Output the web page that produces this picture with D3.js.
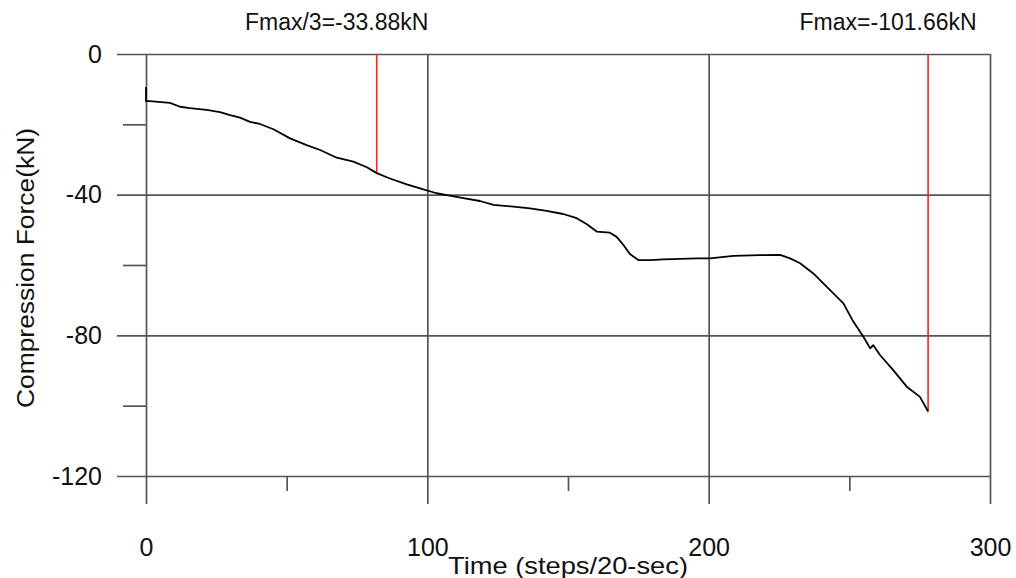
<!DOCTYPE html>
<html>
<head>
<meta charset="utf-8">
<script src="https://cdn.jsdelivr.net/npm/d3@7"></script>
<style>
  html, body { margin: 0; padding: 0; background: #fff; }
  svg text { font-family: "Liberation Sans", Arial, sans-serif; fill: #111; }
</style>
</head>
<body>
<div id="chart"></div>
<script>
// Data (time step, compression force in kN)
const timeSteps = [0, 0, 1.4, 8.5, 12.1, 15.6, 21.6, 26.3, 29.9, 33.4, 37.0, 40.5, 45.3, 51.2, 57.1,
    61.9, 67.8, 73.7, 78.5, 82.0, 86.7, 92.7, 98.6, 103.3, 106.9, 112.8, 118.7, 123.5, 130.6,
    136.5, 142.4, 148.3, 153.1, 156.7, 160.2, 164.9, 167.3, 169.7, 172.0, 175.0, 179.2, 183.9,
    195.8, 200.5, 208.8, 218.3, 225.4, 228.9, 232.5, 237.2, 242.0, 247.9, 251.4, 255.0, 257.4,
    258.5, 260.9, 265.6, 270.4, 275.1, 278.0];
const forceKN = [-9.4, -13.4, -13.4, -13.9, -15.0, -15.4, -15.9, -16.5, -17.4, -18.1, -19.3, -19.9,
    -21.4, -24.0, -25.9, -27.3, -29.5, -30.6, -32.2, -33.88, -35.4, -37.1, -38.5, -39.6, -40.1,
    -41.0, -41.8, -42.9, -43.4, -43.9, -44.6, -45.5, -46.7, -48.4, -50.5, -50.8, -52.0, -54.3,
    -56.9, -58.6, -58.6, -58.4, -58.1, -58.1, -57.4, -57.2, -57.1, -58.1, -59.5, -62.4, -66.2,
    -70.9, -76.1, -80.4, -83.7, -82.8, -85.6, -89.9, -94.6, -97.5, -101.66];

// Marker lines (Fmax/3 and Fmax)
const markerTimes = [82.0, 278.0];
const markerForces = [-33.88, -101.66];
const markerLabels = ["Fmax/3=-33.88kN", "Fmax=-101.66kN"];

// Axis ticks
const xMajorTicks = [0, 100, 200, 300];
const xMinorTicks = [50, 150, 250];
const yMajorTicks = [0, -40, -80, -120];
const yMinorTicks = [-20, -60, -100];

const width = 1016;
const height = 578;
const plot = { left: 146, right: 990, top: 54, bottom: 476 };

const svg = d3.select("#chart")
    .append("svg")
    .attr("width", width)
    .attr("height", height);

const x = d3.scaleLinear().domain([0, 300]).range([plot.left, plot.right]);
const y = d3.scaleLinear().domain([-120, 0]).range([plot.bottom, plot.top]);

const gridColor = "#555";
// plain hyphen minus like the original, not d3's unicode minus
const plainFormat = d => String(d);

// Horizontal lines + y labels (ticks run all the way across)
const yAxis = svg.append("g")
    .attr("transform", `translate(${plot.right}, 0)`)
    .call(d3.axisLeft(y).tickValues(yMajorTicks).tickFormat(plainFormat)
        .tickSize(plot.right - 117).tickPadding(15));
yAxis.select(".domain").remove();
yAxis.selectAll("line").attr("stroke", gridColor).attr("stroke-width", 1.7);
yAxis.selectAll("text").style("font-size", "25px").attr("fill", "#111");

// y minor ticks
const yMinor = svg.append("g")
    .attr("transform", `translate(${plot.left}, 0)`)
    .call(d3.axisLeft(y).tickValues(yMinorTicks).tickSize(23).tickFormat(""));
yMinor.select(".domain").remove();
yMinor.selectAll("line").attr("stroke", gridColor).attr("stroke-width", 1.7);

// Vertical lines + x labels
const xAxis = svg.append("g")
    .attr("transform", `translate(0, ${plot.top})`)
    .call(d3.axisBottom(x).tickValues(xMajorTicks).tickFormat(plainFormat)
        .tickSize(504 - plot.top).tickPadding(34));
xAxis.select(".domain").remove();
xAxis.selectAll("line").attr("stroke", gridColor).attr("stroke-width", 1.7);
xAxis.selectAll("text").style("font-size", "25px").attr("fill", "#111");

// x minor ticks
const xMinor = svg.append("g")
    .attr("transform", `translate(0, ${plot.bottom})`)
    .call(d3.axisBottom(x).tickValues(xMinorTicks).tickSize(15).tickFormat(""));
xMinor.select(".domain").remove();
xMinor.selectAll("line").attr("stroke", gridColor).attr("stroke-width", 1.7);

// Red marker lines
svg.selectAll(".marker")
    .data(markerTimes)
    .enter()
    .append("line")
    .attr("class", "marker")
    .attr("x1", d => x(d))
    .attr("x2", d => x(d))
    .attr("y1", y(0))
    .attr("y2", (d, i) => y(markerForces[i]))
    .attr("stroke", "#ff2020")
    .attr("stroke-width", 1.6);

// Force curve
const line = d3.line()
    .x((d, i) => x(timeSteps[i]))
    .y(d => y(d));

svg.append("path")
    .datum(forceKN)
    .attr("d", line)
    .attr("fill", "none")
    .attr("stroke", "#000")
    .attr("stroke-width", 1.8)
    .attr("stroke-linejoin", "round");

// Marker labels
svg.selectAll(".marker-label")
    .data(markerLabels)
    .enter()
    .append("text")
    .attr("class", "marker-label")
    .attr("x", (d, i) => x(markerTimes[i]) - 40)
    .attr("y", 30)
    .attr("text-anchor", "middle")
    .style("font-size", "23px")
    .text(d => d);

// Axis titles
svg.append("text")
    .attr("x", 568)
    .attr("y", 574)
    .attr("text-anchor", "middle")
    .attr("textLength", 240)
    .attr("lengthAdjust", "spacingAndGlyphs")
    .style("font-size", "24px")
    .text("Time (steps/20-sec)");

svg.append("text")
    .attr("transform", "rotate(-90)")
    .attr("x", -268)
    .attr("y", 34)
    .attr("text-anchor", "middle")
    .attr("textLength", 280)
    .attr("lengthAdjust", "spacingAndGlyphs")
    .style("font-size", "23px")
    .text("Compression Force(kN)");
</script>
</body>
</html>
